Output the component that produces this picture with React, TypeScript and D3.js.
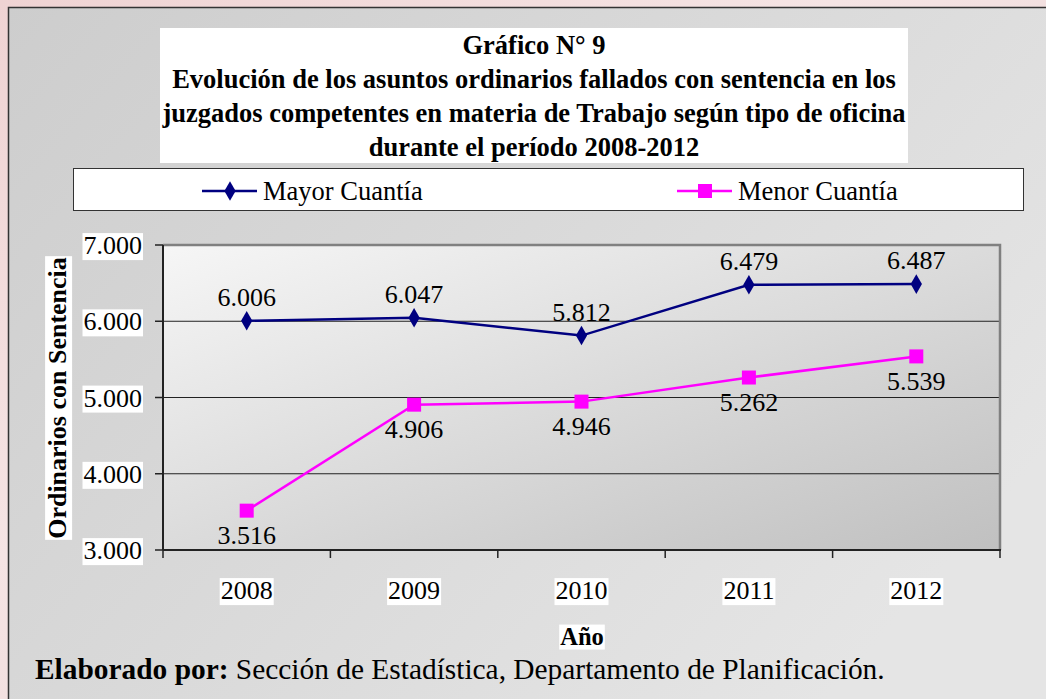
import React, { useEffect, useRef } from "react";
import * as d3 from "d3";

const years = ["2008", "2009", "2010", "2011", "2012"];
const mayor = [6006, 6047, 5812, 6479, 6487];
const menor = [3516, 4906, 4946, 5262, 5539];
const yTicks = [3000, 4000, 5000, 6000, 7000];
const titleLines = [
  "Gráfico N° 9",
  "Evolución de los asuntos ordinarios fallados con sentencia en los",
  "juzgados competentes en materia de Trabajo según tipo de oficina",
  "durante el período 2008-2012",
];
const seriesNames = ["Mayor Cuantía", "Menor Cuantía"];

const FONT = "'Liberation Serif', 'Times New Roman', serif";
const fmt = (v: number) => d3.format(",")(v).replace(/,/g, ".");

export default function App() {
  const ref = useRef<SVGSVGElement>(null);
  useEffect(() => {
    const svg = d3.select(ref.current!);
    svg.selectAll("*").remove();
    const W = 1046, H = 699;
    const defs = svg.append("defs");
    const g1 = defs.append("linearGradient").attr("id", "bgPink").attr("x1", 0).attr("y1", 0).attr("x2", 1).attr("y2", 1);
    g1.append("stop").attr("offset", "0").attr("stop-color", "#efd3d3");
    g1.append("stop").attr("offset", "0.4").attr("stop-color", "#f5e4e4");
    g1.append("stop").attr("offset", "1").attr("stop-color", "#e6cccc");
    const g2 = defs.append("linearGradient").attr("id", "panel").attr("x1", 0).attr("y1", 0).attr("x2", 1).attr("y2", 0.6);
    g2.append("stop").attr("offset", "0").attr("stop-color", "#cdcdcd");
    g2.append("stop").attr("offset", "1").attr("stop-color", "#e5e5e5");
    const g3 = defs.append("linearGradient").attr("id", "plotbg").attr("x1", 0).attr("y1", 0).attr("x2", 1).attr("y2", 1);
    g3.append("stop").attr("offset", "0").attr("stop-color", "#f6f6f6");
    g3.append("stop").attr("offset", "1").attr("stop-color", "#c0c0c0");

    svg.append("rect").attr("width", W).attr("height", H).attr("fill", "url(#bgPink)");
    svg.append("rect").attr("x", 8.5).attr("y", 7.5).attr("width", W + 10).attr("height", H + 10)
      .attr("fill", "url(#panel)").attr("stroke", "#333").attr("stroke-width", 1.5);

    // Title
    svg.append("rect").attr("x", 160).attr("y", 28).attr("width", 748).attr("height", 135).attr("fill", "#fff");
    titleLines.forEach((t, i) => {
      svg.append("text").attr("x", 534).attr("y", 45 + i * 34).attr("dy", "0.35em")
        .attr("text-anchor", "middle").attr("font-family", FONT).attr("font-weight", "bold")
        .attr("font-size", 26.5).attr("fill", "#000").text(t);
    });

    // Legend
    svg.append("rect").attr("x", 73.5).attr("y", 168.5).attr("width", 950).attr("height", 42)
      .attr("fill", "#fff").attr("stroke", "#333").attr("stroke-width", 1);
    const legX = [202, 677];
    const colors = ["#000080", "#ff00ff"];
    legX.forEach((lx, i) => {
      svg.append("line").attr("x1", lx).attr("x2", lx + 55).attr("y1", 191).attr("y2", 191)
        .attr("stroke", colors[i]).attr("stroke-width", 2.5);
      if (i === 0) {
        svg.append("path").attr("d", d3.symbol(d3.symbolDiamond, 110)()!).attr("transform", `translate(${lx + 28},191)`).attr("fill", colors[i]);
      } else {
        svg.append("rect").attr("x", lx + 28 - 7).attr("y", 191 - 7).attr("width", 14).attr("height", 14).attr("fill", colors[i]);
      }
      svg.append("text").attr("x", lx + 61).attr("y", 191).attr("dy", "0.35em")
        .attr("font-family", FONT).attr("font-size", 26.5).attr("fill", "#000").text(seriesNames[i]);
    });

    // Plot
    const x = d3.scaleBand().domain(years).range([163, 1000]);
    const y = d3.scaleLinear().domain([3000, 7000]).range([550, 245]);
    svg.append("rect").attr("x", 163).attr("y", 245).attr("width", 837).attr("height", 305).attr("fill", "url(#plotbg)");
    yTicks.filter((t) => t > 3000 && t < 7000).forEach((t) => {
      svg.append("line").attr("x1", 163).attr("x2", 1000).attr("y1", y(t)).attr("y2", y(t)).attr("stroke", "#222").attr("stroke-width", 1);
    });
    svg.append("path").attr("d", `M163,${y(7000)}H1000V550`).attr("fill", "none").attr("stroke", "#808080").attr("stroke-width", 2.5);
    svg.append("line").attr("x1", 163).attr("x2", 163).attr("y1", 245).attr("y2", 550).attr("stroke", "#222").attr("stroke-width", 2);
    svg.append("line").attr("x1", 163).attr("x2", 1001).attr("y1", 550).attr("y2", 550).attr("stroke", "#222").attr("stroke-width", 2);
    yTicks.forEach((t) => {
      svg.append("line").attr("x1", 155).attr("x2", 163).attr("y1", y(t)).attr("y2", y(t)).attr("stroke", "#222").attr("stroke-width", 1.5);
    });
    years.concat(["end"]).forEach((_, i) => {
      const xx = 163 + i * x.step();
      svg.append("line").attr("x1", xx).attr("x2", xx).attr("y1", 550).attr("y2", 558).attr("stroke", "#222").attr("stroke-width", 1.5);
    });

    const labelWithBg = (tx: number, ty: number, text: string, anchor: string, size: number, bold = false, rotate = 0) => {
      const grp = svg.append("g").attr("transform", `translate(${tx},${ty}) rotate(${rotate})`);
      const bg = grp.append("rect").attr("fill", "#fff");
      const te = grp.append("text").attr("text-anchor", anchor).attr("dy", "0.35em").attr("font-family", FONT)
        .attr("font-size", size).attr("font-weight", bold ? "bold" : "normal").attr("fill", "#000").text(text);
      const bb = (te.node() as SVGTextElement).getBBox();
      bg.attr("x", bb.x - 1).attr("y", bb.y + 2).attr("width", bb.width + 2).attr("height", bb.height - 2);
    };

    yTicks.forEach((t) => labelWithBg(142, y(t), fmt(t), "end", 26));
    years.forEach((yr) => labelWithBg(x(yr)! + x.bandwidth() / 2, 590, yr, "middle", 26));
    labelWithBg(57, 398, "Ordinarios con Sentencia", "middle", 26, true, -90);
    labelWithBg(582, 636, "Año", "middle", 24.5, true);

    const line = d3.line<number>().x((_, i) => x(years[i])! + x.bandwidth() / 2).y((d) => y(d));
    [mayor, menor].forEach((s, si) => {
      svg.append("path").attr("d", line(s)!).attr("fill", "none").attr("stroke", colors[si]).attr("stroke-width", 2.5);
      s.forEach((v, i) => {
        const cx = x(years[i])! + x.bandwidth() / 2, cy = y(v);
        if (si === 0) {
          svg.append("path").attr("d", d3.symbol(d3.symbolDiamond, 110)()!).attr("transform", `translate(${cx},${cy})`).attr("fill", colors[si]);
        } else {
          svg.append("rect").attr("x", cx - 7).attr("y", cy - 7).attr("width", 14).attr("height", 14).attr("fill", colors[si]);
        }
        svg.append("text").attr("x", cx).attr("y", si === 0 ? cy - 24 : cy + 24).attr("dy", "0.35em")
          .attr("text-anchor", "middle").attr("font-family", FONT).attr("font-size", 26).attr("fill", "#000").text(fmt(v));
      });
    });

    const src = svg.append("text").attr("x", 35).attr("y", 669).attr("dy", "0.35em").attr("font-family", FONT).attr("font-size", 29.4);
    src.append("tspan").attr("font-weight", "bold").text("Elaborado por: ");
    src.append("tspan").text("Sección de Estadística, Departamento de Planificación.");
  }, []);
  return (
    <svg ref={ref} width={1046} height={699} style={{ position: "absolute", left: 0, top: 0, display: "block" }} />
  );
}
